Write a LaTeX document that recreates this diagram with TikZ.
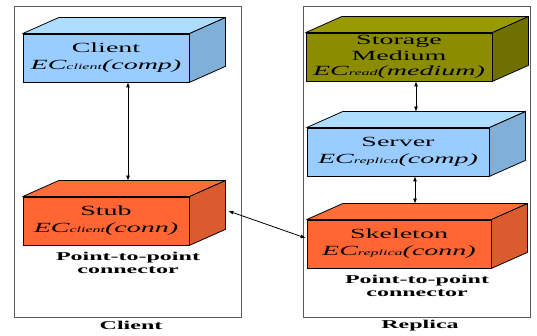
\documentclass[tikz,border=0pt]{standalone}
\usepackage{fontspec}
\setmainfont{Liberation Serif}[FakeStretch=2]
\usetikzlibrary{arrows.meta,calc}
\definecolor{blueF}{HTML}{99CCFF}
\definecolor{blueT}{HTML}{AEDEFF}
\definecolor{blueS}{HTML}{80B0D8}
\definecolor{oliveF}{HTML}{8C8C00}
\definecolor{oliveT}{HTML}{999900}
\definecolor{oliveS}{HTML}{707000}
\definecolor{orF}{HTML}{FF6633}
\definecolor{orT}{HTML}{FF6E38}
\definecolor{orS}{HTML}{D95B2E}
\definecolor{panelgray}{HTML}{5A5A5A}
\newcommand\subtxt[1]{{\fontsize{8}{8}\selectfont #1}}
\newcommand\depthfaces[3]{%
  \filldraw[fill=#2,draw=black,line width=0.8pt,line join=round] (#1.north west) -- ++(36,-16) -- ($(#1.north east)+(36,-16)$) -- (#1.north east) -- cycle;
  \filldraw[fill=#3,draw=black,line width=0.8pt,line join=round] (#1.north east) -- ++(36,-16) -- ($(#1.south east)+(36,-16)$) -- (#1.south east) -- cycle;
}
\tikzset{
  box/.style={draw=black, line width=0.8pt, inner sep=0pt, minimum height=48pt, align=center, font=\fontsize{14}{17}\selectfont},
  panel/.style={draw=panelgray, line width=0.9pt, inner sep=0pt, minimum width=227pt, minimum height=311pt},
  lbl/.style={align=center, inner sep=0pt, font=\fontsize{12}{12.5}\selectfont\bfseries},
  arr/.style={{Latex[length=5pt,width=4pt]}-{Latex[length=5pt,width=4pt]}, line width=0.8pt}
}
\begin{document}
\begin{tikzpicture}[x=1pt,y=-1pt]
\useasboundingbox (0,0) rectangle (537,336);
% panels
\node[panel] (clientpanel) at (127.5,161.5) {};
\node[panel] (replicapanel) at (416.5,161.5) {};
\node[lbl] (clientname) at (131,325) {Client};
\node[lbl] (replicaname) at (420,326) {Replica};
% boxes
\node[box, fill=blueF, minimum width=166pt] (client) at (106,58) {Client\\\textit{EC\subtxt{client}(comp)}};
\depthfaces{client}{blueT}{blueS}
\node[box, fill=orF, minimum width=166pt] (stub) at (106,221) {Stub\\\textit{EC\subtxt{client}(conn)}};
\depthfaces{stub}{orT}{orS}
\node[box, fill=oliveF, minimum width=186pt, font=\fontsize{14}{15.5}\selectfont] (storage) at (399,57) {Storage\\Medium\\\textit{EC\subtxt{read}(medium)}};
\depthfaces{storage}{oliveT}{oliveS}
\node[box, fill=blueF, minimum width=182pt] (server) at (398,152) {Server\\\textit{EC\subtxt{replica}(comp)}};
\depthfaces{server}{blueT}{blueS}
\node[box, fill=orF, minimum width=184pt] (skeleton) at (399,244) {Skeleton\\\textit{EC\subtxt{replica}(conn)}};
\depthfaces{skeleton}{orT}{orS}
% connector labels
\node[lbl] (stublbl) at (128,263) {Point-to-point\\connector};
\node[lbl] (skellbl) at (417,286) {Point-to-point\\connector};
% arrow helper coordinates
\coordinate (cx) at (128,0);
\coordinate (sx) at (416,0);
\coordinate (kx) at (415,0);
\coordinate (stubtb) at ($(stub.north west)+(36,-16)$);
\coordinate (servertb) at ($(server.north west)+(36,-16)$);
\coordinate (skeltb) at ($(skeleton.north west)+(36,-16)$);
\coordinate (stubside) at ($(stub.east)+(39,-10)$);
\coordinate (skelside) at ($(skeleton.west)+(-1,-6)$);
% connectors
\draw[arr] (client.south -| cx) -- (stubtb -| cx);
\draw[arr] (storage.south -| sx) -- (servertb -| sx);
\draw[arr] (server.south -| kx) -- (skeltb -| kx);
\draw[arr] (stubside) -- (skelside);
\end{tikzpicture}
\end{document}
